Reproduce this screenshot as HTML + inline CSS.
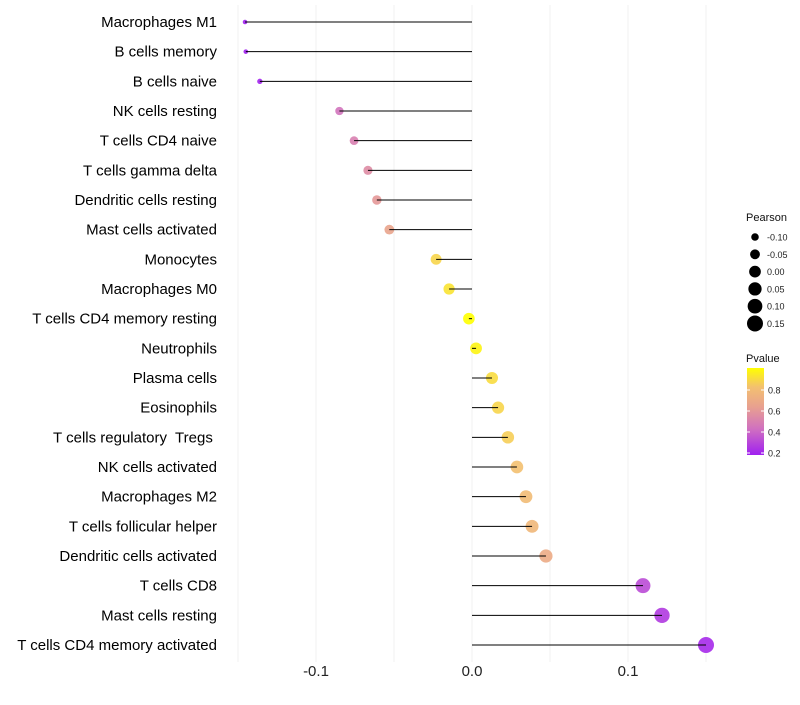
<!DOCTYPE html>
<html><head><meta charset="utf-8"><style>
body{margin:0;background:#fff;}
svg{font-family:"Liberation Sans",sans-serif;}
text{white-space:pre;}
</style></head><body>
<svg id="chart" width="800" height="700">
<defs>
<linearGradient id="pg" x1="0" y1="1" x2="0" y2="0">
<stop offset="0" stop-color="#a020f0"/>
<stop offset="0.3" stop-color="#d070c0"/>
<stop offset="0.55" stop-color="#e8a090"/>
<stop offset="0.78" stop-color="#f3c070"/>
<stop offset="1" stop-color="#ffff00"/>
</linearGradient>
</defs>
<g id="grid"></g><g id="marks"></g><g id="labels"></g><g id="legend"></g>
</svg>
<script>
const categories=["Macrophages M1","B cells memory","B cells naive","NK cells resting","T cells CD4 naive","T cells gamma delta","Dendritic cells resting","Mast cells activated","Monocytes","Macrophages M0","T cells CD4 memory resting","Neutrophils","Plasma cells","Eosinophils","T cells regulatory  Tregs ","NK cells activated","Macrophages M2","T cells follicular helper","Dendritic cells activated","T cells CD8","Mast cells resting","T cells CD4 memory activated"];
const pearson=[-0.1455,-0.145,-0.136,-0.085,-0.0756,-0.0667,-0.061,-0.053,-0.023,-0.0147,-0.002,0.0026,0.0128,0.0167,0.023,0.0288,0.0346,0.0385,0.0474,0.1096,0.1218,0.150];
const pvalue=[0.19,0.19,0.2,0.45,0.5,0.55,0.6,0.66,0.88,0.92,1.0,0.97,0.9,0.88,0.86,0.82,0.79,0.77,0.7,0.32,0.27,0.22];
const xTicks=[-0.1,0,0.1];
const xTickLabels=["-0.1","0.0","0.1"];
const sizeLegend=[-0.10,-0.05,0.00,0.05,0.10,0.15];
const sizeLegendLabels=["-0.10","-0.05","0.00","0.05","0.10","0.15"];
const colorTicks=[0.2,0.4,0.6,0.8];
const colorTickLabels=["0.2","0.4","0.6","0.8"];

const NS="http://www.w3.org/2000/svg";
const x=v=>472+v*1560;
const y=i=>22+i*(623/21);
const r=v=>Math.sqrt(Math.max(1,34.2+199*v));
function lerp(a,b,t){return a.map((c,i)=>Math.round(c+(b[i]-c)*t));}
const stops=[[0,[160,32,240]],[0.3,[208,112,192]],[0.55,[232,160,144]],[0.78,[243,192,112]],[1,[255,255,0]]];
function col(p){let t=(p-0.19)/(1.0-0.19);t=Math.max(0,Math.min(1,t));
for(let i=1;i<stops.length;i++){if(t<=stops[i][0]){const a=stops[i-1],b=stops[i];const c=lerp(a[1],b[1],(t-a[0])/(b[0]-a[0]));return `rgb(${c})`;}}return "rgb(255,255,0)";}
function mk(tag,attrs,parent){const e=document.createElementNS(NS,tag);for(const k in attrs)e.setAttribute(k,attrs[k]);parent.appendChild(e);return e;}
const grid=document.getElementById('grid'),marks=document.getElementById('marks'),labels=document.getElementById('labels'),legend=document.getElementById('legend');
for(let v=-0.15;v<=0.151;v+=0.05){const g=mk('line',{x1:x(v),x2:x(v),y1:5,y2:662,stroke:'#f0f0f0','stroke-width':1},grid);

}
xTicks.forEach((v,i)=>{const t=mk('text',{x:x(v),y:676,'text-anchor':'middle','font-size':15,fill:'#222'},labels);t.textContent=xTickLabels[i];

});
categories.forEach((c,i)=>{
const t=mk('text',{x:217,y:y(i)+5,'text-anchor':'end','font-size':15,fill:'#000'},labels);t.textContent=c;


const p=mk('circle',{cx:x(pearson[i]),cy:y(i),r:r(pearson[i]),fill:col(pvalue[i]),'fill-opacity':0.9},marks);


const l=mk('line',{x1:x(0),x2:x(pearson[i]),y1:y(i),y2:y(i),stroke:'#000','stroke-width':1},marks);


});
let tt=mk('text',{x:746,y:221,'font-size':11,fill:'#111'},legend);tt.textContent="Pearson";


sizeLegend.forEach((v,i)=>{const cy=237+i*17.3;
const d=mk('circle',{cx:755,cy:cy,r:r(v),fill:'#000'},legend);


const t=mk('text',{x:767,y:cy+3.5,'font-size':9,fill:'#222'},legend);t.textContent=sizeLegendLabels[i];

});
tt=mk('text',{x:746,y:362,'font-size':11,fill:'#111'},legend);tt.textContent="Pvalue";


const bar=mk('rect',{x:747,y:368,width:17,height:87,fill:'url(#pg)'},legend);


const cy=p=>453-(p-0.2)/0.2*21;
colorTicks.forEach((v,i)=>{
mk('line',{x1:747,x2:750,y1:cy(v),y2:cy(v),stroke:'#fff'},legend);
mk('line',{x1:761,x2:764,y1:cy(v),y2:cy(v),stroke:'#fff'},legend);
const t=mk('text',{x:768,y:cy(v)+3.5,'font-size':9,fill:'#222'},legend);t.textContent=colorTickLabels[i];

});
</script>
</body></html>
